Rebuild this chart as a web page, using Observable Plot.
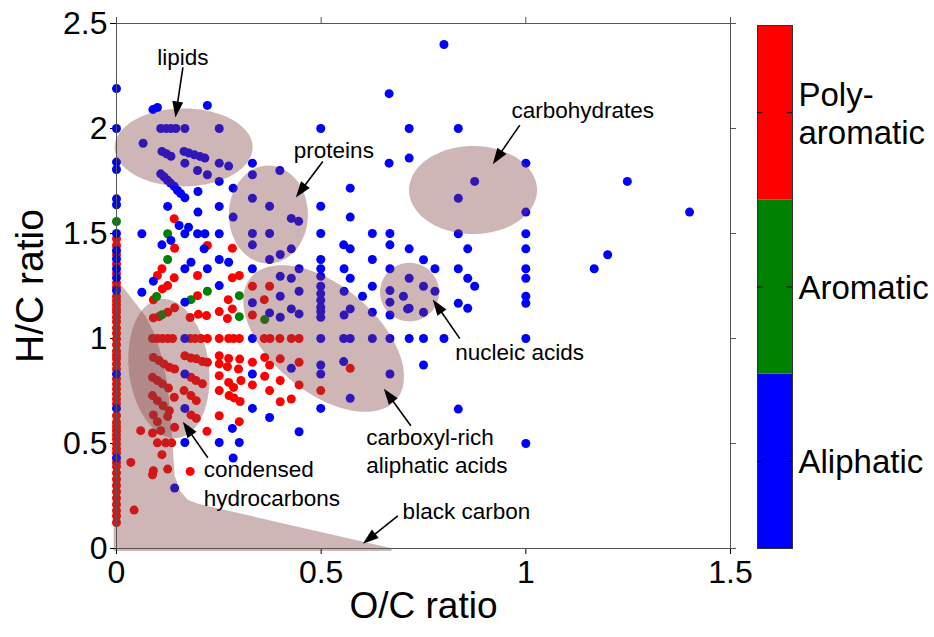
<!DOCTYPE html>
<html><head><meta charset="utf-8">
<script src="https://cdn.jsdelivr.net/npm/d3@7"></script>
<script src="https://cdn.jsdelivr.net/npm/@observablehq/plot@0.6"></script>
<style>
body{margin:0;background:#fff;}
#wrap{position:relative;width:934px;height:637px;overflow:hidden;}
#main{position:absolute;left:0;top:0;}
#bar{position:absolute;left:740px;top:0;}
</style></head><body><div id="wrap"><div id="main"></div><div id="bar"></div></div>
<script>
// ---------- data ----------
const xTicks = [0, 0.5, 1, 1.5];
const yTicks = [0, 0.5, 1, 1.5, 2, 2.5];
const classes = ["Aliphatic", "Aromatic", "Poly-aromatic"];
const classLabels = ["Aliphatic", "Aromatic", "Poly-\naromatic"];
const classColors = ["#0000ff", "#008000", "#ff0000"];

// [O/C, H/C]
const polyAromatic = [
[0,1.475],[0,1.443],[0,1.40],[0,1.355],[0,1.31],[0,1.265],[0,1.244],[0,1.20],[0,1.18],[0,1.16],[0,1.14],[0,1.125],[0,1.101],[0,1.08],[0,1.05],[0,1.025],[0,0.998],[0,0.97],[0,0.94],[0,0.92],[0,0.903],[0,0.879],[0,0.855],[0,0.807],[0,0.783],[0,0.76],[0,0.736],[0,0.712],[0,0.69],[0,0.632],[0,0.60],[0,0.58],[0,0.561],[0,0.54],[0,0.521],[0,0.498],[0,0.475],[0,0.455],[0,0.41],[0,0.39],[0,0.36],[0,0.33],[0,0.30],[0,0.27],[0,0.24],[0,0.21],[0,0.18],[0,0.155],[0,0.124],
[0.141,1.570],[0.142,1.43],[0.222,1.443],[0.283,1.43],
[0.111,1.332],[0.10,1.30],[0.141,1.289],[0.198,1.30],[0.283,1.289],[0.30,1.30],
[0.125,1.252],[0.112,1.236],[0.09,1.184],[0.198,1.204],[0.273,1.185],[0.283,1.141],
[0.09,1.098],[0.104,1.105],[0.125,1.125],[0.142,1.146],
[0.18,1.1],[0.2,1.115],[0.22,1.109],[0.251,1.128],[0.271,1.095],
[0.332,1.249],[0.374,1.249],[0.361,1.185],[0.332,1.112],
[0.088,1],[0.10,1],[0.112,1],[0.125,1],[0.137,1],[0.18,1],[0.192,1],[0.206,1],[0.222,1],[0.251,1],[0.274,1],[0.286,1],[0.30,1],[0.361,1],[0.375,1],[0.399,1],[0.427,1],[0.446,1],
[0.09,0.91],[0.104,0.895],[0.116,0.879],[0.129,0.863],[0.142,0.855],
[0.167,0.918],[0.182,0.907],[0.195,0.903],[0.21,0.89],[0.222,0.887],
[0.251,0.918],[0.274,0.905],[0.301,0.902],
[0.251,0.879],[0.271,0.866],[0.298,0.855],
[0.332,0.887],[0.362,0.91],[0.374,0.874],[0.40,0.903],[0.446,0.887],[0.571,0.858],
[0.088,0.815],[0.10,0.80],[0.112,0.784],[0.127,0.764],[0.141,0.72],
[0.182,0.815],[0.194,0.80],[0.21,0.784],
[0.251,0.823],[0.274,0.791],[0.286,0.767],[0.304,0.80],[0.362,0.82],[0.332,0.779],[0.374,0.752],[0.40,0.80],[0.446,0.779],[0.499,0.752],
[0.251,0.752],[0.275,0.728],[0.287,0.717],[0.302,0.70],
[0.088,0.728],[0.10,0.704],[0.114,0.68],[0.129,0.656],
[0.165,0.752],[0.182,0.728],[0.195,0.704],
[0.182,0.636],[0.195,0.62],[0.09,0.636],[0.10,0.604],[0.125,0.629],[0.142,0.577],[0.059,0.561],[0.088,0.55],[0.108,0.561],[0.251,0.632],[0.30,0.604],
[0.40,0.699],[0.427,0.712],
[0.1,0.503],[0.12,0.503],[0.135,0.503],[0.111,0.447],[0.035,0.41],[0.09,0.37],[0.088,0.351],[0.125,0.378],[0.18,0.367],[0.043,0.183],[0.221,0.558]
];

const aromatic = [
[0,1.557],[0.125,1.499],[0.125,1.376],[0.098,1.20],[0.182,1.185],[0.222,1.225],[0.111,1.113],[0.30,1.204],[0.30,1.104],[0.362,1.09]
];

const aliphatic = [
[0,2.19],[0,2.0],[0,1.84],[0,1.805],[0,1.665],[0,1.637],[0,1.50],[0,1.419],[0,1.379],[0,1.332],[0,1.289],[0,1.228],[0,0.831],[0,0.667],[0,0.431],
[0.089,2.09],[0.100,2.10],[0.222,2.11],[0.666,2.166],
[0.108,2.0],[0.121,2.0],[0.133,2.0],[0.145,2.0],[0.167,2.0],[0.251,2.0],[0.499,2.0],[0.715,2.0],[0.835,2.0],
[0.065,1.93],
[0.111,1.891],[0.122,1.880],[0.133,1.868],
[0.165,1.891],[0.177,1.883],[0.190,1.875],[0.204,1.867],[0.216,1.859],
[0.167,1.835],[0.251,1.835],[0.274,1.821],[0.332,1.835],[0.666,1.835],[0.715,1.859],[1.0,1.835],
[0.198,1.80],[0.222,1.78],[0.332,1.78],[0.399,1.80],
[0.108,1.784],[0.116,1.77],[0.124,1.755],[0.132,1.74],[0.141,1.725],[0.149,1.705],[0.157,1.69],[0.167,1.67],
[0.251,1.748],[0.285,1.716],[0.199,1.70],[0.125,1.629],[0.199,1.602],[0.251,1.629],[0.332,1.668],[0.374,1.63],[0.285,1.578],[0.427,1.572],[0.445,1.558],[0.499,1.63],[0.571,1.716],[0.571,1.578],
[0.80,2.40],[0.875,1.748],[0.835,1.668],[1.0,1.602],[1.248,1.748],[1.40,1.602],
[0.835,1.499],[1.0,1.499],[0.858,1.427],[1.0,1.427],[0.715,1.427],[0.75,1.375],[0.778,1.332],[0.835,1.332],[1.0,1.332],[1.0,1.287],[1.20,1.399],[1.167,1.332],[0.715,1.287],[0.75,1.249],[0.778,1.225],[0.701,1.201],[0.858,1.287],[0.875,1.249],[0.835,1.168],[0.858,1.144],[0.715,1.144],[0.75,1.125],[1.0,1.201],[1.0,1.168],[0.715,1.0],[0.75,1.0],[0.80,1.0],[1.0,1.0],[0.75,0.874],[0.835,0.664],[1.0,0.50],
[0.332,1.50],[0.374,1.50],[0.499,1.50],[0.625,1.50],[0.668,1.50],[0.332,1.446],[0.427,1.427],[0.40,1.40],[0.374,1.376],[0.555,1.446],[0.571,1.427],[0.668,1.446],[0.499,1.376],[0.625,1.376],[0.332,1.332],[0.446,1.332],[0.499,1.332],[0.556,1.332],[0.668,1.332],[0.40,1.296],[0.427,1.287],[0.499,1.296],[0.571,1.287],[0.499,1.249],[0.625,1.249],[0.668,1.228],[0.40,1.201],[0.446,1.225],[0.499,1.214],[0.499,1.182],[0.556,1.225],[0.601,1.201],[0.668,1.173],[0.332,1.17],
[0.374,1.122],[0.40,1.101],[0.427,1.141],[0.446,1.117],[0.499,1.149],[0.499,1.128],[0.499,1.101],[0.556,1.112],[0.571,1.141],[0.625,1.125],[0.668,1.112],[0.711,1.141],
[0.167,1],[0.332,1],[0.499,1],[0.555,1],[0.571,1],[0.625,1],[0.668,1],
[0.427,0.858],[0.499,0.874],[0.499,0.831],[0.555,0.89],[0.668,0.831],[0.332,0.831],[0.571,0.715],[0.332,0.667],[0.499,0.667],[0.374,0.624],[0.446,0.556],[0.167,0.831],[0.167,0.667],[0.167,0.505],[0.251,0.505],[0.30,0.505],[0.283,0.572],[0.285,0.431],[0.142,0.288],
[0.153,1.538],[0.176,1.530],[0.167,1.499],[0.062,1.499],[0.198,1.499],[0.216,1.499],[0.251,1.499],[0.133,1.467],[0.111,1.446],[0.214,1.427],[0.251,1.376],[0.274,1.363],[0.182,1.363],[0.167,1.332],[0.222,1.332],[0.09,1.273],[0.251,1.252],[0.062,1.22],[0.167,1.173]
];

// compound-class regions: centre (O/C, H/C), semi-axes a,b (px), screen angle (deg)
const regionEllipses = [
  {name: "lipids",        cx: 0.164, cy: 1.910, a: 69,   b: 39,   angle: 0},
  {name: "proteins",      cx: 0.371, cy: 1.590, a: 39.5, b: 49,   angle: 0},
  {name: "carbohydrates", cx: 0.871, cy: 1.707, a: 64,   b: 44,   angle: 0},
  {name: "nucleic acids", cx: 0.716, cy: 1.221, a: 29.5, b: 29.3, angle: 0},
  {name: "carboxyl",      cx: 0.506, cy: 1.000, a: 95,   b: 53,   angle: 40},
  {name: "condensed",     cx: 0.128, cy: 0.857, a: 70,   b: 40,   angle: 83}
];
const blackCarbon = [
  [-0.007,-0.012],[-0.007,1.215],[0.001,1.256],[0.015,1.246],[0.042,1.18],[0.072,1.104],[0.096,1.009],
  [0.113,0.895],[0.125,0.776],[0.133,0.609],[0.138,0.466],[0.142,0.347],[0.155,0.275],[0.174,0.232],
  [0.199,0.213],[0.675,0.0],[0.670,-0.012]
];

// annotation labels and arrows (O/C, H/C)
const centeredLabels = [
  {text: "lipids", x: 0.162, y: 2.339},
  {text: "proteins", x: 0.531, y: 1.895},
  {text: "carbohydrates", x: 1.139, y: 2.086},
  {text: "nucleic acids", x: 0.985, y: 0.933}
];
const leftLabels = [
  {text: "carboxyl-rich", x: 0.610, y: 0.528},
  {text: "aliphatic acids", x: 0.610, y: 0.394},
  {text: "condensed", x: 0.213, y: 0.375},
  {text: "hydrocarbons", x: 0.213, y: 0.237},
  {text: "black carbon", x: 0.699, y: 0.175}
];
const arrows = [
  {id: "lipids", x1: 0.1622, y1: 2.2909, x2: 0.1439, y2: 2.0524},
  {id: "proteins", x1: 0.5040, y1: 1.8431, x2: 0.4381, y2: 1.6716},
  {id: "carbohydrates", x1: 0.9853, y1: 2.0162, x2: 0.9193, y2: 1.8303},
  {id: "nucleic", x1: 0.8387, y1: 0.9995, x2: 0.7727, y2: 1.1854},
  {id: "carboxyl", x1: 0.7191, y1: 0.5849, x2: 0.6532, y2: 0.7612},
  {id: "condensed", x1: 0.2231, y1: 0.4318, x2: 0.1620, y2: 0.6030},
  {id: "black", x1: 0.6873, y1: 0.1559, x2: 0.6018, y2: 0.0224}
];

// ---------- layout ----------
const W = 740, H = 637, ML = 116, MR = 10, MT = 23, MB = 89;
const kx = (W - ML - MR) / 1.5, ky = (H - MT - MB) / 2.5; // px per unit

const points = [
  ...polyAromatic.map(([x, y]) => ({x, y, c: "Poly-aromatic"})),
  ...aromatic.map(([x, y]) => ({x, y, c: "Aromatic"})),
  ...aliphatic.map(([x, y]) => ({x, y, c: "Aliphatic"}))
];

const regionPts = [];
for (const r of regionEllipses) {
  const th = r.angle * Math.PI / 180;
  for (let i = 0; i <= 120; i++) {
    const t = i / 120 * 2 * Math.PI;
    const dx = r.a * Math.cos(t) * Math.cos(th) - r.b * Math.sin(t) * Math.sin(th);
    const dy = r.a * Math.cos(t) * Math.sin(th) + r.b * Math.sin(t) * Math.cos(th);
    regionPts.push({name: r.name, x: r.cx + dx / kx, y: r.cy - dy / ky});
  }
}
blackCarbon.forEach(([x, y]) => regionPts.push({name: "black carbon", x, y}));

const headLen = 16, headHalf = 5.5;
const shafts = [], heads = [];
for (const a of arrows) {
  const px1 = a.x1 * kx, py1 = -a.y1 * ky, px2 = a.x2 * kx, py2 = -a.y2 * ky;
  const L = Math.hypot(px2 - px1, py2 - py1), ux = (px2 - px1) / L, uy = (py2 - py1) / L;
  const bx = px2 - ux * headLen, by = py2 - uy * headLen;
  shafts.push({x1: a.x1, y1: a.y1, x2: (bx + ux * 2) / kx, y2: -(by + uy * 2) / ky});
  const corners = [[px2, py2], [bx - uy * headHalf, by + ux * headHalf], [bx + uy * headHalf, by - ux * headHalf], [px2, py2]];
  corners.forEach(([X, Y]) => heads.push({id: a.id, x: X / kx, y: -Y / ky}));
}

const narrow = "'Liberation Sans Narrow','Arial Narrow','Liberation Sans',sans-serif";
const sans = "'Liberation Sans',Arial,Helvetica,sans-serif";
const color = {domain: classes, range: classColors};

const main = Plot.plot({
  width: W, height: H, marginLeft: ML, marginRight: MR, marginTop: MT, marginBottom: MB,
  style: {fontFamily: narrow, fontSize: "32px", color: "#000", background: "transparent", overflow: "visible"},
  x: {domain: [0, 1.5], ticks: xTicks, tickFormat: d => String(d), tickSize: 6, tickPadding: 6, label: null},
  y: {domain: [0, 2.5], ticks: yTicks, tickFormat: d => String(d), tickSize: 6, tickPadding: 3, label: null},
  color,
  marks: [
    Plot.dot(points, {x: "x", y: "y", fill: "c", r: 4.5}),
    Plot.line(regionPts, {x: "x", y: "y", z: "name", fill: "rgb(128,64,64)", fillOpacity: 0.38, stroke: "none", curve: "linear"}),
    Plot.frame({stroke: "#555"}),
    Plot.ruleX(xTicks, {x: d => d, y1: 2.5, y2: 2.5 + 6 / ky, stroke: "#555"}),
    Plot.ruleY(yTicks, {y: d => d, x1: 1.5, x2: 1.5 + 6 / kx, stroke: "#555"}),
    Plot.link(shafts, {x1: "x1", y1: "y1", x2: "x2", y2: "y2", stroke: "#000", strokeWidth: 1.6}),
    Plot.line(heads, {x: "x", y: "y", z: "id", fill: "#000", stroke: "none"}),
    Plot.text(centeredLabels, {x: "x", y: "y", text: "text", fontSize: 22.5, fontFamily: sans, fill: "#000"}),
    Plot.text(leftLabels, {x: "x", y: "y", text: "text", textAnchor: "start", fontSize: 22.5, fontFamily: sans, fill: "#000"}),
    Plot.text(["O/C ratio"], {text: d => d, frameAnchor: "bottom", textAnchor: "middle", lineAnchor: "middle", dy: 58, fontSize: 37, fontFamily: narrow}),
    Plot.text(["H/C ratio"], {text: d => d, frameAnchor: "left", textAnchor: "middle", lineAnchor: "middle", dx: -86, rotate: -90, fontSize: 39, fontFamily: narrow})
  ]
});
document.getElementById("main").appendChild(main);

const bar = Plot.plot({
  width: 194, height: H, marginLeft: 17, marginRight: 142, marginTop: 25, marginBottom: 89,
  style: {fontFamily: sans, background: "transparent", overflow: "visible"},
  x: {domain: [0, 1], axis: null},
  y: {domain: [0, 3], axis: null},
  color,
  marks: [
    Plot.rect(classes, {x1: 0, x2: 1, y1: (d, i) => i, y2: (d, i) => i + 1, fill: d => d}),
    Plot.frame({stroke: "#333"}),
    Plot.ruleY(classes, {y: (d, i) => i + 0.5, x1: 0, x2: 0.15, stroke: "#000"}),
    Plot.ruleY(classes, {y: (d, i) => i + 0.5, x1: 0.85, x2: 1, stroke: "#000"}),
    Plot.text(classLabels, {x: 1, y: (d, i) => i + 0.5, text: d => d, textAnchor: "start", dx: 6, fontSize: 33, fontFamily: sans, lineHeight: 1.15, fill: "#000"})
  ]
});
document.getElementById("bar").appendChild(bar);
</script>
</body></html>
